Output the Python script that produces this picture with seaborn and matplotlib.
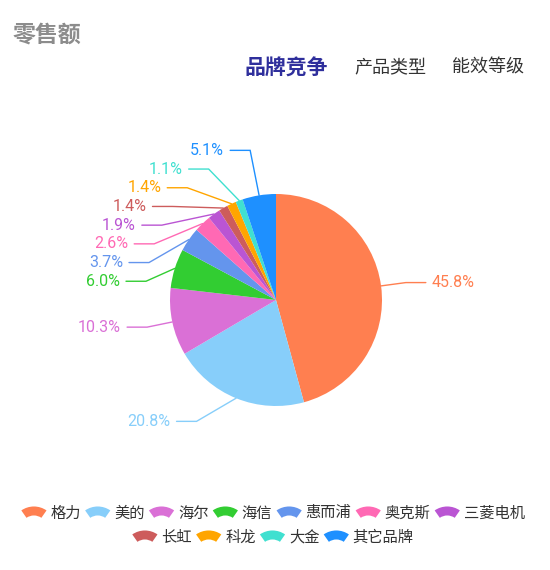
import numpy as np
import matplotlib
matplotlib.use('Agg')
import matplotlib.pyplot as plt
import seaborn as sns
from matplotlib.patches import Wedge
from matplotlib.legend_handler import HandlerBase

# ---------------- data ----------------
title = '零售额'
tabs = ['品牌竞争', '产品类型', '能效等级']
brands = ['格力', '美的', '海尔', '海信', '惠而浦', '奥克斯', '三菱电机',
          '长虹', '科龙', '大金', '其它品牌']
shares = [45.8, 20.8, 10.3, 6.0, 3.7, 2.6, 1.9, 1.4, 1.4, 1.1, 5.1]
colors = ['#FF7F50', '#87CEFA', '#DA70D6', '#32CD32', '#6495ED', '#FF69B4',
          '#BA55D3', '#CD5C5C', '#FFA500', '#40E0D0', '#1E90FF']

# ---------------- style ----------------
sns.set_theme(style='white')
plt.rcParams['font.family'] = ['Roboto', 'Noto Sans CJK SC', 'DejaVu Sans']
CJK = ['Noto Sans CJK SC', 'DejaVu Sans']

W, H = 550, 570
CX, CY, R = 276, 300, 106      # pie centre (pixels, y down) and radius
RA = 131                       # radius of label elbows
LEN2 = 20                      # horizontal leader length
GAP = 18.7                     # min vertical distance between labels

fig = plt.figure(figsize=(W / 100, H / 100), dpi=100)
fig.patch.set_facecolor('white')
ax = fig.add_axes([0, 0, 1, 1])
palette = sns.color_palette(colors)
wedges, _ = ax.pie(shares, colors=palette, startangle=90, counterclock=False,
                   center=(CX, H - CY), radius=R,
                   wedgeprops=dict(linewidth=0))
ax.set_xlim(0, W)
ax.set_ylim(0, H)
ax.set_aspect('auto')
ax.axis('off')

# ---------------- label layout ----------------
mids = np.array([np.radians((w.theta1 + w.theta2) / 2) for w in wedges])
side = np.where(np.cos(mids) >= 0, 1, -1)
nat_y = CY - RA * np.sin(mids)
lab_y = nat_y.copy()


def spread(idx):
    if len(idx) == 0:
        return
    order = idx[np.argsort(nat_y[idx])]
    ys = nat_y[order].copy()
    adj = ys.copy()
    pushed = np.zeros(len(adj), bool)
    for i in range(1, len(adj)):
        if adj[i] < adj[i - 1] + GAP:
            adj[i] = adj[i - 1] + GAP
            pushed[i] = True
    # shift each pushed cluster up by half of its final overshoot
    i = 0
    while i < len(adj):
        j = i
        while j + 1 < len(adj) and pushed[j + 1]:
            j += 1
        if j > i:
            over = adj[j] - ys[j]
            adj[i:j + 1] -= over / 2
        i = j + 1
    lab_y[order] = adj


for s in (-1, 1):
    spread(np.where(side == s)[0])

for s in (-1, 1):
    idx = np.where(side == s)[0]
    if len(idx) == 0:
        continue
    RB = max(RA, np.max(np.abs(lab_y[idx] - CY)) + 3)
    for k in idx:
        dy = lab_y[k] - CY
        dx = RA * np.sqrt(max(0.0, 1 - (dy / RB) ** 2))
        ex, ey = CX + R * np.cos(mids[k]), CY - R * np.sin(mids[k])
        bx = CX + s * dx
        hx = bx + s * LEN2
        ax.plot([ex, bx, hx], [H - ey, H - lab_y[k], H - lab_y[k]],
                color=colors[k], lw=1.0, solid_joinstyle='miter')
        ax.text(hx + s * 6, H - lab_y[k], f'{shares[k]:.1f}%',
                color=colors[k], fontsize=11.5, family='Roboto',
                ha='left' if s > 0 else 'right', va='center')

# ---------------- titles ----------------
fig.text(13 / W, 1 - 35 / H, title, fontsize=16.5, fontweight='bold',
         color='#8c8c8c', va='center', family=CJK)
tab_x = [245, 354, 452]
for i, (t, x) in enumerate(zip(tabs, tab_x)):
    fig.text(x / W, 1 - 68 / H, t, va='center', family=CJK,
             fontsize=15 if i == 0 else 13,
             fontweight='bold' if i == 0 else 'normal',
             color='#2f2f9c' if i == 0 else '#333333')


# ---------------- legend with fan icons ----------------
class FanHandler(HandlerBase):
    def create_artists(self, legend, orig_handle, xdescent, ydescent,
                       width, height, fontsize, trans):
        half = np.radians(35)
        Rr = width / (2 * np.sin(half))
        Ri = Rr * 0.59
        cx = -xdescent + width / 2
        boxc = -ydescent + height / 2
        cyc = boxc - (Rr + Ri * np.cos(half)) / 2
        p = Wedge((cx, cyc), Rr, 90 - 35, 90 + 35, width=Rr - Ri,
                  facecolor=orig_handle.get_facecolor(), linewidth=0,
                  transform=trans)
        return [p]


common = dict(loc='center', frameon=False, handlelength=1.65,
              handletextpad=0.25, columnspacing=0.28, borderaxespad=0,
              borderpad=0, labelcolor='#333333',
              prop=dict(family=CJK, size=11),
              handler_map={Wedge: FanHandler()})
fig.legend(wedges[:7], brands[:7], ncol=7,
           bbox_to_anchor=(273 / W, 1 - 513 / H), **common)
fig.legend(wedges[7:], brands[7:], ncol=4,
           bbox_to_anchor=(273 / W, 1 - 537 / H), **common)

fig.savefig('out.png', dpi=100, facecolor='white')
